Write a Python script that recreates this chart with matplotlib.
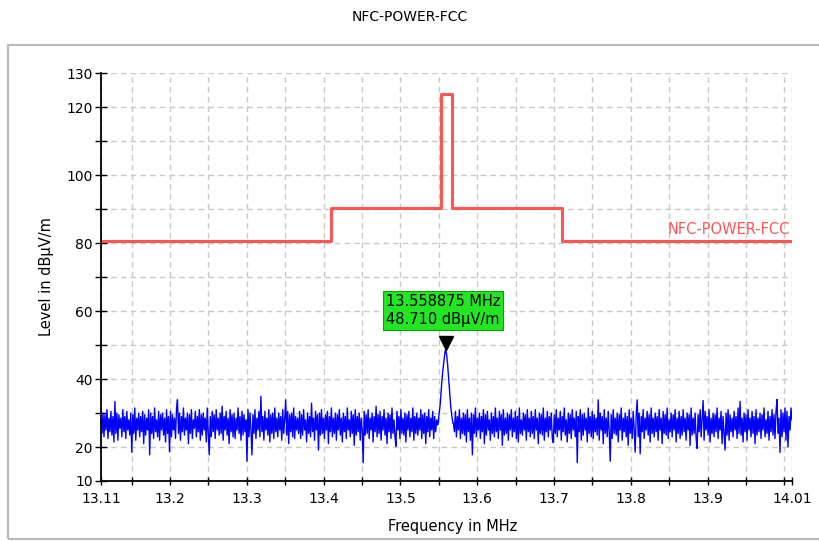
import numpy as np
import matplotlib
matplotlib.use('Agg')
import matplotlib.pyplot as plt
import matplotlib.transforms as mtransforms
from matplotlib.patches import Rectangle

# limit line (FCC 15.225)
lim_f = [13.11, 13.41, 13.41, 13.553, 13.553, 13.567, 13.567, 13.71, 13.71, 14.01]
lim_db = [80.5, 80.5, 90.5, 90.5, 124.0, 124.0, 90.5, 90.5, 80.5, 80.5]

# noise floor left of carrier, 13.11 .. 13.5485 MHz
left_db = [27.5, 24.0, 30.0, 23.0, 29.5, 25.0, 31.0, 22.5, 28.5, 24.5, 30.5, 23.5, 29.0, 21.5, 33.4, 24.0, 30.0, 22.0, 29.5, 25.5,
           28.5, 23.0, 31.0, 24.5, 29.0, 22.5, 30.5, 25.0, 28.0, 23.5, 30.0, 18.4, 29.5, 24.0, 31.5, 22.0, 28.5, 25.0, 30.0, 23.0,
           29.0, 24.5, 30.5, 21.0, 29.5, 23.5, 28.5, 25.0, 31.0, 17.7, 30.0, 24.0, 29.0, 22.5, 31.5, 24.5, 28.0, 23.0, 30.5, 22.0,
           29.5, 25.0, 30.0, 23.5, 28.5, 21.5, 31.0, 24.0, 29.0, 18.6, 30.5, 23.0, 29.5, 25.0, 28.5, 22.5, 31.0, 33.9, 24.0, 30.0,
           22.0, 29.0, 24.5, 31.5, 23.5, 28.5, 25.0, 30.0, 21.0, 29.5, 24.0, 31.0, 22.5, 28.0, 25.5, 30.5, 23.0, 29.0, 24.5, 31.0,
           22.0, 29.5, 23.5, 30.0, 25.0, 28.5, 21.5, 31.5, 24.0, 17.7, 29.0, 23.0, 30.5, 24.5, 29.5, 22.5, 31.0, 25.0, 28.5, 23.5,
           30.0, 24.0, 32.0, 22.0, 29.0, 25.0, 30.5, 23.5, 28.5, 21.0, 31.0, 24.5, 29.5, 23.0, 30.0, 22.5, 28.5, 25.0, 31.5, 24.0,
           29.0, 22.0, 30.5, 23.5, 29.5, 24.5, 28.0, 15.8, 31.0, 23.0, 30.0, 25.0, 17.7, 29.5, 24.0, 31.0, 22.5, 28.5, 25.0, 30.5,
           23.0, 34.9, 24.5, 29.0, 22.0, 30.5, 25.0, 28.5, 23.5, 31.0, 21.5, 29.5, 24.0, 30.0, 22.5, 31.5, 24.5, 28.5, 23.0, 30.0,
           25.0, 29.0, 22.0, 31.0, 24.0, 28.5, 33.9, 23.5, 30.5, 21.0, 29.5, 24.5, 30.0, 23.0, 31.5, 22.5, 29.0, 25.0, 28.5, 24.0,
           30.5, 22.5, 29.5, 23.5, 31.0, 25.0, 28.0, 21.5, 30.0, 24.0, 29.0, 23.0, 32.9, 24.5, 28.5, 22.0, 30.5, 25.0, 29.5, 19.1,
           30.0, 23.5, 31.0, 24.0, 28.5, 22.5, 29.5, 25.0, 30.5, 21.0, 29.0, 24.5, 31.5, 23.0, 28.5, 24.0, 30.0, 22.0, 29.5, 25.0,
           31.0, 23.5, 28.5, 21.5, 30.0, 24.5, 29.0, 22.5, 31.5, 25.0, 28.0, 23.0, 30.5, 24.0, 29.5, 20.5, 31.0, 23.5, 29.0, 24.5,
           30.0, 22.0, 28.5, 25.0, 15.4, 30.5, 23.5, 29.5, 24.0, 31.0, 22.5, 28.5, 25.0, 30.0, 21.5, 29.0, 24.5, 32.0, 23.0, 29.5,
           24.0, 30.5, 22.0, 29.0, 25.0, 31.0, 23.5, 28.5, 21.0, 30.0, 24.5, 29.5, 22.5, 31.5, 24.0, 28.0, 23.0, 20.2, 30.5, 25.0,
           29.0, 22.5, 31.0, 24.0, 28.5, 23.5, 30.0, 21.5, 29.5, 25.0, 30.5, 23.0, 28.5, 24.5, 31.5, 22.0, 29.0, 24.0, 30.0, 23.5,
           28.5, 25.0, 31.0, 22.5, 29.5, 24.0, 30.0, 21.0, 29.0, 24.5, 31.0, 23.0, 28.5, 25.0, 30.5, 22.5, 29.0, 24.5, 28.0, 26.5]

# the carrier itself
peak_f = [13.5490, 13.5505, 13.5520, 13.5535, 13.5550, 13.5565, 13.5580,
          13.558875, 13.5600, 13.5612, 13.5625, 13.5640, 13.5655, 13.5670, 13.5685]
peak_db = [27.0, 30.0, 33.0, 38.0, 42.0, 45.0, 48.0,
           48.71, 47.5, 45.0, 41.0, 36.0, 32.0, 29.0, 27.0]

# noise floor right of carrier, 13.569 .. 14.01 MHz
right_db = [27.0, 24.5, 30.5, 23.0, 29.0, 25.0, 31.0, 22.5, 28.5, 24.0, 30.0, 23.5, 29.5, 21.5, 31.0, 24.5, 28.5, 22.0, 30.0, 17.7,
            29.5, 24.0, 31.5, 23.0, 28.5, 25.0, 30.0, 22.5, 29.0, 24.5, 31.0, 21.0, 29.5, 23.5, 30.5, 25.0, 28.0, 22.0, 30.0, 24.0,
            29.0, 23.0, 31.5, 24.5, 28.5, 22.5, 30.5, 25.0, 29.5, 20.5, 31.0, 23.5, 28.5, 24.0, 30.0, 22.0, 29.5, 25.0, 31.0, 23.0,
            28.5, 24.5, 30.5, 22.5, 29.0, 21.5, 31.5, 24.0, 28.0, 23.5, 30.0, 25.0, 29.5, 22.0, 31.0, 24.5, 28.5, 23.0, 30.5, 24.0,
            29.0, 22.5, 31.0, 25.0, 28.5, 21.0, 30.0, 24.0, 29.5, 23.5, 31.5, 22.0, 28.5, 24.5, 30.5, 23.0, 29.0, 25.0, 30.0, 22.5,
            21.3, 29.5, 24.0, 31.0, 23.0, 28.5, 25.0, 30.5, 22.0, 29.0, 24.5, 31.5, 23.5, 28.0, 21.5, 30.0, 24.0, 29.5, 22.5, 31.0,
            25.0, 28.5, 23.0, 30.5, 15.4, 29.0, 24.5, 31.0, 22.0, 29.5, 23.5, 30.0, 25.0, 28.5, 21.5, 31.5, 24.0, 29.0, 23.0, 30.5,
            22.5, 29.5, 24.5, 28.5, 23.5, 33.9, 22.0, 30.0, 25.0, 29.0, 21.0, 31.0, 24.0, 28.5, 23.0, 30.5, 24.5, 15.8, 29.5, 22.5,
            31.0, 24.0, 28.5, 23.5, 30.0, 21.5, 29.5, 25.0, 31.5, 22.0, 28.5, 24.5, 30.0, 23.0, 29.0, 20.5, 31.0, 24.0, 28.5, 22.5,
            30.5, 25.0, 18.5, 29.5, 33.9, 23.0, 30.0, 18.0, 29.0, 24.5, 31.0, 22.5, 28.5, 25.0, 30.5, 23.5, 29.5, 21.5, 31.5, 24.0,
            28.5, 23.0, 30.0, 24.5, 29.0, 22.0, 31.0, 25.0, 28.5, 21.0, 30.5, 24.0, 29.5, 23.5, 31.5, 22.5, 28.0, 24.5, 30.0, 23.0,
            29.5, 25.0, 31.0, 21.5, 28.5, 24.0, 30.5, 22.5, 29.0, 23.5, 31.0, 24.5, 28.5, 22.0, 30.0, 25.0, 29.5, 20.5, 31.5, 23.5,
            28.5, 24.0, 30.0, 22.5, 19.6, 29.5, 24.5, 31.0, 23.0, 28.5, 33.7, 22.0, 30.5, 25.0, 29.0, 23.5, 31.0, 21.5, 28.5, 24.0,
            30.0, 23.0, 29.5, 24.5, 31.5, 22.5, 28.5, 25.0, 30.5, 21.0, 29.0, 24.0, 19.1, 30.0, 23.5, 31.0, 22.0, 29.5, 24.5, 28.5,
            23.0, 30.5, 25.0, 29.0, 22.5, 31.5, 24.0, 33.4, 23.5, 28.5, 21.5, 30.0, 24.5, 29.5, 22.0, 31.0, 25.0, 28.5, 23.0, 30.5,
            24.0, 29.0, 21.0, 31.0, 23.5, 28.5, 24.5, 30.0, 22.5, 29.5, 25.0, 31.5, 23.0, 28.0, 24.0, 30.5, 22.0, 29.0, 24.5, 31.0,
            23.5, 29.5, 22.5, 30.5, 34.0, 24.0, 28.5, 18.4, 31.0, 23.0, 30.0, 24.5, 31.5, 22.0, 30.5, 20.0, 29.0, 25.0, 31.5, 28.0]

marker_f = 13.558875
marker_db = 48.710

xticks = [13.11, 13.2, 13.3, 13.4, 13.5, 13.6, 13.7, 13.8, 13.9, 14.01]
xminor = [13.15, 13.25, 13.35, 13.45, 13.55, 13.65, 13.75, 13.85, 13.95, 14.0]
yticks = [10, 20, 40, 60, 80, 100, 120, 130]
yminor = [30, 50, 70, 90, 110]

left_f = np.linspace(13.11, 13.5485, len(left_db))
right_f = np.linspace(13.569, 14.01, len(right_db))
trace_f = np.concatenate([left_f, peak_f, right_f])
trace_db = np.concatenate([left_db, peak_db, right_db])

plt.rcParams['font.family'] = 'DejaVu Sans'
fig = plt.figure(figsize=(8.2, 5.41), dpi=100)
fig.add_artist(Rectangle((8/820, 2/541), 1.0, 0.913, transform=fig.transFigure,
                         fill=False, edgecolor='#b8b8b8', lw=1.5))
fig.text(0.5, 1-17/541, 'NFC-POWER-FCC', ha='center', va='center', fontsize=10)

ax = fig.add_axes([101/820, 1-481/541, 691/820, 407.7/541])
ax.plot(trace_f, trace_db, color='#0000ff', lw=1.0)
ax.plot(lim_f, lim_db, color='#ff5555', lw=2.2)
ax.text(14.008, 81.8, 'NFC-POWER-FCC', color='#ff5555', ha='right', va='bottom', fontsize=10.5)

# marker
tr = mtransforms.offset_copy(ax.transData, fig=fig, y=5, units='points')
ax.plot([marker_f], [marker_db], marker='v', color='black', ms=10, transform=tr, clip_on=False)
ax.annotate('%.6f MHz\n%.3f dB\u00b5V/m' % (marker_f, marker_db), (marker_f, marker_db),
            xytext=(-2, 28), textcoords='offset points', ha='center', va='center',
            fontsize=10.5, linespacing=1.3,
            bbox=dict(boxstyle='square,pad=0.18', fc='#22e622', ec='#149914', lw=0.8))

ax.set_xlim(13.11, 14.01)
ax.set_ylim(10, 130)
ax.set_xticks(xticks)
ax.set_xticklabels(['%g' % t for t in xticks])
ax.set_xticks(xminor, minor=True)
ax.set_yticks(yticks)
ax.set_yticks(yminor, minor=True)
ax.tick_params(axis='both', which='both', direction='inout', labelsize=10, width=1)
ax.tick_params(axis='x', which='both', length=6, pad=5)
ax.tick_params(axis='y', which='both', length=8, pad=2)
ax.grid(True, which='both', color='#c8c8c8', ls=(0, (4, 3)), lw=1)
ax.set_axisbelow(True)
for s in ['top', 'right']:
    ax.spines[s].set_visible(False)
for s in ['left', 'bottom']:
    ax.spines[s].set_linewidth(1.3)

fig.text(453/820, 1-527/541, 'Frequency in MHz', ha='center', va='center', fontsize=10.5)
fig.text(47/820, 1-277/541, 'Level in dB\u00b5V/m', ha='center', va='center', rotation=90, fontsize=10.5)

fig.savefig('out.png', dpi=100)
